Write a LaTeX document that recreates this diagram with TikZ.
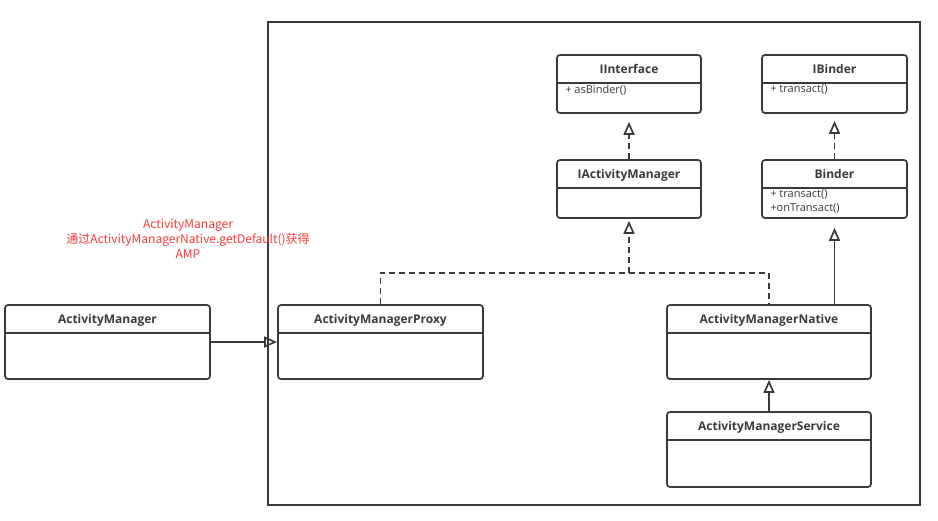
\documentclass[tikz,border=0pt]{standalone}
\usepackage{fontspec}
\setmainfont{Open Sans}
\newfontfamily\cjkfont{Noto Sans CJK SC}
\usepackage{xcolor}
\usepackage{tikz}
\usetikzlibrary{positioning,arrows.meta}

\definecolor{umlline}{HTML}{3A3A3A}
\definecolor{notered}{HTML}{FF3B3B}

% one UML class: name, x, y, width, height, title, members
\newcommand{\umlclass}[7]{%
  \node[classbox, minimum width=#4pt, minimum height=#5pt] (#1) at (#2,#3) {};
  \node[classtitle, below=0pt of #1.north] (#1-title) {#6};
  \draw[umlline, line width=1.3pt] (#1-title.south -| #1.west) -- (#1-title.south -| #1.east);
  \node[classmembers, anchor=north west] (#1-members) at (#1-title.south -| #1.west) {#7};
}

\begin{document}
\begin{tikzpicture}[
  x=1pt, y=-1pt,
  classbox/.style={draw=umlline, line width=1.7pt, rounded corners=3pt, fill=white},
  classtitle/.style={anchor=north, minimum height=28.5pt, inner sep=0pt, text height=10pt, text depth=1pt, font=\bfseries\fontsize{12}{14}\selectfont, text=umlline},
  classmembers/.style={align=left, inner xsep=9pt, inner ysep=1.5pt, font=\fontsize{11}{14}\selectfont, text=umlline},
  realize/.style={umlline, line width=1.7pt, dash pattern=on 6pt off 4pt, -{Triangle[open, length=13pt, width=11pt]}},
  extend/.style={umlline, line width=1.7pt, -{Triangle[open, length=13pt, width=11pt]}},
  note/.style={align=center, text=notered, font=\cjkfont\fontsize{12}{15}\selectfont}
]
\useasboundingbox (0,0) rectangle (938,521);

% frame round the service side
\draw[umlline, line width=1.7pt] (268,22) rectangle (920,505);

\umlclass{iinterface}{629}{84}{144}{58}{IInterface}{+ asBinder()}
\umlclass{ibinder}{834.5}{84}{145}{58}{IBinder}{+ transact()}
\umlclass{iam}{629}{189}{144}{58}{IActivityManager}{}
\umlclass{binder}{834.5}{189}{145}{58}{Binder}{+ transact()\\+onTransact()}
\umlclass{am}{107.5}{342}{205}{74}{ActivityManager}{}
\umlclass{amp}{380.5}{342}{205}{74}{ActivityManagerProxy}{}
\umlclass{amn}{769}{342}{204}{74}{ActivityManagerNative}{}
\umlclass{ams}{769}{449.5}{204}{75}{ActivityManagerService}{}

\node[note] (hint) at (188,239) {ActivityManager\\通过ActivityManagerNative.getDefault()获得\\AMP};

\coordinate (join) at (iam.south |- 0,273);

\draw[realize, shorten >=8pt] (iam) -- (iinterface);
\draw[realize, shorten >=7pt] (binder) -- (ibinder);
\draw[realize, arrows=-] (amp.north) |- (join) -| (amn.north);
\draw[realize, shorten >=2pt] (join) -- (iam.south);
\draw[extend, shorten >=9pt] (amn.north -| binder.south) -- (binder.south);
\draw[extend] (ams) -- (amn);
\draw[extend] (am) -- (amp);
\end{tikzpicture}
\end{document}
